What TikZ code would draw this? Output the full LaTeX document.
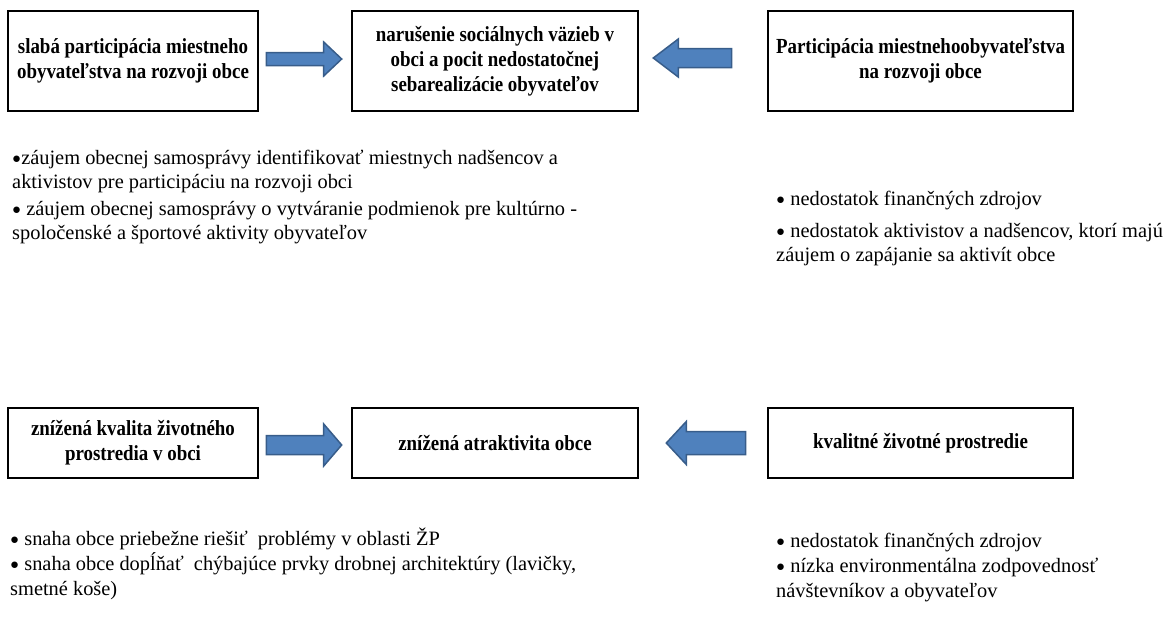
\documentclass[tikz,border=0pt]{standalone}
\usepackage{fontspec}
\setmainfont{Liberation Serif}
\newfontfamily\titlefont{Liberation Serif}[FakeStretch=0.88]
\usetikzlibrary{calc}
\definecolor{arrowfill}{HTML}{4F81BD}
\definecolor{arrowline}{HTML}{385D8A}
\newcommand\bul{{\fontsize{15}{15}\selectfont\raisebox{0.8pt}{●}}}
\tikzset{
  box/.style={draw=black, line width=2.6pt, fill=white, align=center, inner sep=2pt,
    font=\titlefont\bfseries\fontsize{21.5}{25}\selectfont},
  bullets/.style={anchor=base west, align=left, inner sep=0pt,
    font=\fontsize{20.4}{24}\selectfont},
  barrow/.style={draw=arrowline, fill=arrowfill, line width=1.5pt, line join=miter}
}
% #1 tail, #2 tip, #3 shaft half width, #4 head half width, #5 signed head length
\newcommand\blockarrow[5]{%
  \draw[barrow] ($(#1)+(0,-#3)$) -- ($(#2)-(#5,#3)$) -- ($(#2)-(#5,#4)$) -- (#2)
    -- ($(#2)-(#5,-#4)$) -- ($(#2)-(#5,-#3)$) -- ($(#1)+(0,#3)$) -- cycle;}
\begin{document}
\begin{tikzpicture}[x=1pt,y=-1pt]
\useasboundingbox (0,0) rectangle (1163,625);
% top row
\node[box, minimum width=250pt, minimum height=100pt] (b1) at (133,61)
  {slabá participácia miestneho\\obyvateľstva na rozvoji obce};
\node[box, minimum width=286pt, minimum height=100pt] (b2) at (495,61)
  {narušenie sociálnych väzieb v\\obci a pocit nedostatočnej\\sebarealizácie obyvateľov};
\node[box, minimum width=305pt, minimum height=100pt] (b3) at (920.5,61)
  {Participácia miestnehoobyvateľstva\\na rozvoji obce};
% bottom row
\node[box, minimum width=250pt, minimum height=70pt] (b4) at (133,443)
  {znížená kvalita životného\\prostredia v obci};
\node[box, minimum width=286pt, minimum height=70pt] (b5) at (495,443)
  {znížená atraktivita obce};
\node[box, minimum width=305pt, minimum height=70pt] (b6) at (920.5,443)
  {kvalitné životné prostredie};
% arrow anchor points
\coordinate (a1s) at ($(b1.east)+(7,-2)$);
\coordinate (a1t) at ($(b2.west)+(-9,-2)$);
\coordinate (a2s) at ($(b3.west)+(-35,-3)$);
\coordinate (a2t) at ($(b2.east)+(14,-3)$);
\coordinate (a3s) at ($(b4.east)+(7,2)$);
\coordinate (a3t) at ($(b5.west)+(-9,2)$);
\coordinate (a4s) at ($(b6.west)+(-21,0)$);
\coordinate (a4t) at ($(b5.east)+(27,0)$);
\blockarrow{a1s}{a1t}{6.5}{17}{18}
\blockarrow{a2s}{a2t}{9.5}{19}{-25}
\blockarrow{a3s}{a3t}{9.5}{21}{18}
\blockarrow{a4s}{a4t}{11.5}{21.5}{-20}
% bullet texts (base anchor = baseline of last line)
\node[bullets] (t1) at (12,188)
  {\bul záujem obecnej samosprávy identifikovať miestnych nadšencov a\\aktivistov pre participáciu na rozvoji obci};
\node[bullets] (t2) at (12,239)
  {\bul{} záujem obecnej samosprávy o vytváranie podmienok pre kultúrno -\\spoločenské a športové aktivity obyvateľov};
\node[bullets] (t3) at (776,205.5)
  {\bul{} nedostatok finančných zdrojov};
\node[bullets] (t4) at (776,261.5)
  {\bul{} nedostatok aktivistov a nadšencov, ktorí majú\\záujem o zapájanie sa aktivít obce};
\node[bullets] (t5) at (10,545)
  {\bul{} snaha obce priebežne riešiť\ \ problémy v oblasti ŽP};
\node[bullets, font=\fontsize{20.4}{25}\selectfont] (t6) at (10,595)
  {\bul{} snaha obce dopĺňať\ \ chýbajúce prvky drobnej architektúry (lavičky,\\smetné koše)};
\node[bullets] (t7) at (776,547.5)
  {\bul{} nedostatok finančných zdrojov};
\node[bullets, font=\fontsize{20.4}{25}\selectfont] (t8) at (776,597.5)
  {\bul{} nízka environmentálna zodpovednosť\\návštevníkov a obyvateľov};
\end{tikzpicture}
\end{document}
